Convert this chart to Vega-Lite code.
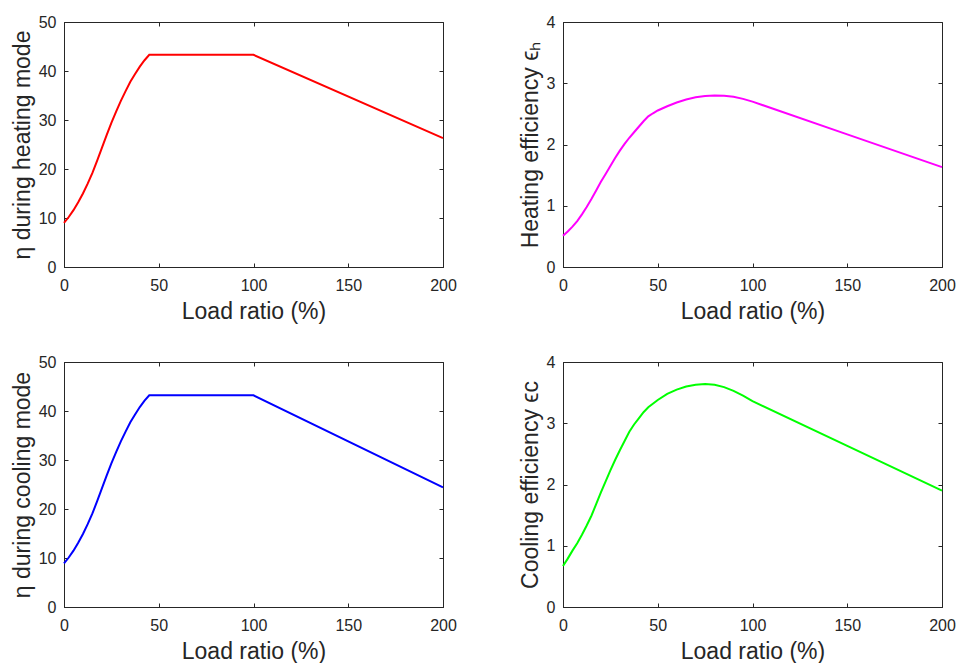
{
  "$schema": "https://vega.github.io/schema/vega-lite/v6.json",
  "background": "white",
  "padding": {"left": 10, "top": 13, "right": 5, "bottom": 5},
  "config": {
    "view": {"stroke": "#262626", "strokeWidth": 1},
    "font": "Liberation Sans",
    "axis": {
      "grid": false,
      "domainColor": "#262626",
      "tickColor": "#262626",
      "labelColor": "#262626",
      "titleColor": "#262626",
      "labelFont": "Liberation Sans",
      "titleFont": "Liberation Sans",
      "labelFontSize": 16,
      "titleFontSize": 23,
      "titleFontWeight": "normal",
      "tickSize": -4,
      "labelFlush": false
    },
    "axisX": {"labelPadding": 14, "titlePadding": 7},
    "axisY": {"labelPadding": 12, "titlePadding": 4}
  },
  "datasets": {
    "heating_eta": [
      {"load": 0, "value": 9.0}, {"load": 2.5, "value": 10.2}, {"load": 5, "value": 11.6},
      {"load": 7.5, "value": 13.2}, {"load": 10, "value": 15.0}, {"load": 12.5, "value": 17.0},
      {"load": 15, "value": 19.2}, {"load": 17.5, "value": 21.7}, {"load": 20, "value": 24.3},
      {"load": 22.5, "value": 26.9}, {"load": 25, "value": 29.4}, {"load": 27.5, "value": 31.7},
      {"load": 30, "value": 33.9}, {"load": 32.5, "value": 35.9}, {"load": 35, "value": 37.8},
      {"load": 37.5, "value": 39.4}, {"load": 40, "value": 40.9}, {"load": 42.5, "value": 42.2},
      {"load": 45, "value": 43.3}, {"load": 100, "value": 43.3}, {"load": 200, "value": 26.3}
    ],
    "heating_eff": [
      {"load": 0, "value": 0.51}, {"load": 2.5, "value": 0.58}, {"load": 5, "value": 0.66},
      {"load": 7.5, "value": 0.75}, {"load": 10, "value": 0.86}, {"load": 12.5, "value": 0.98},
      {"load": 15, "value": 1.11}, {"load": 17.5, "value": 1.25}, {"load": 20, "value": 1.39},
      {"load": 22.5, "value": 1.52}, {"load": 25, "value": 1.65}, {"load": 27.5, "value": 1.78},
      {"load": 30, "value": 1.90}, {"load": 32.5, "value": 2.01}, {"load": 35, "value": 2.11},
      {"load": 37.5, "value": 2.20}, {"load": 40, "value": 2.29}, {"load": 42.5, "value": 2.38},
      {"load": 45, "value": 2.46}, {"load": 47.5, "value": 2.51}, {"load": 50, "value": 2.555},
      {"load": 55, "value": 2.625}, {"load": 60, "value": 2.685}, {"load": 65, "value": 2.735},
      {"load": 70, "value": 2.77}, {"load": 75, "value": 2.79}, {"load": 80, "value": 2.80},
      {"load": 85, "value": 2.795}, {"load": 90, "value": 2.78}, {"load": 95, "value": 2.745},
      {"load": 100, "value": 2.70}, {"load": 150, "value": 2.165}, {"load": 200, "value": 1.63}
    ],
    "cooling_eta": [
      {"load": 0, "value": 8.9}, {"load": 2.5, "value": 10.1}, {"load": 5, "value": 11.5},
      {"load": 7.5, "value": 13.1}, {"load": 10, "value": 14.9}, {"load": 12.5, "value": 16.9},
      {"load": 15, "value": 19.1}, {"load": 17.5, "value": 21.6}, {"load": 20, "value": 24.2},
      {"load": 22.5, "value": 26.8}, {"load": 25, "value": 29.3}, {"load": 27.5, "value": 31.6},
      {"load": 30, "value": 33.8}, {"load": 32.5, "value": 35.8}, {"load": 35, "value": 37.7},
      {"load": 37.5, "value": 39.3}, {"load": 40, "value": 40.8}, {"load": 42.5, "value": 42.1},
      {"load": 45, "value": 43.2}, {"load": 100, "value": 43.2}, {"load": 200, "value": 24.4}
    ],
    "cooling_eff": [
      {"load": 0, "value": 0.67}, {"load": 2.5, "value": 0.79}, {"load": 5, "value": 0.92},
      {"load": 7.5, "value": 1.04}, {"load": 10, "value": 1.18}, {"load": 12.5, "value": 1.33},
      {"load": 15, "value": 1.49}, {"load": 17.5, "value": 1.68}, {"load": 20, "value": 1.87},
      {"load": 22.5, "value": 2.05}, {"load": 25, "value": 2.23}, {"load": 27.5, "value": 2.40},
      {"load": 30, "value": 2.56}, {"load": 32.5, "value": 2.71}, {"load": 35, "value": 2.86},
      {"load": 37.5, "value": 2.98}, {"load": 40, "value": 3.08}, {"load": 42.5, "value": 3.18},
      {"load": 45, "value": 3.26}, {"load": 50, "value": 3.38}, {"load": 55, "value": 3.48},
      {"load": 60, "value": 3.55}, {"load": 65, "value": 3.60}, {"load": 70, "value": 3.63},
      {"load": 75, "value": 3.64}, {"load": 80, "value": 3.63}, {"load": 85, "value": 3.59},
      {"load": 90, "value": 3.53}, {"load": 95, "value": 3.45}, {"load": 100, "value": 3.36},
      {"load": 150, "value": 2.63}, {"load": 200, "value": 1.90}
    ]
  },
  "columns": 2,
  "spacing": {"row": 95, "column": 120},
  "bounds": "flush",
  "concat": [
    {
      "width": 379, "height": 245,
      "data": {"name": "heating_eta"},
      "layer": [
        {
          "mark": {"type": "line", "color": "#FF0000", "strokeWidth": 2},
          "encoding": {
            "x": {"field": "load", "type": "quantitative", "scale": {"domain": [0, 200], "nice": false},
                  "axis": {"title": "Load ratio (%)", "values": [0, 50, 100, 150, 200]}},
            "y": {"field": "value", "type": "quantitative", "scale": {"domain": [0, 50], "nice": false},
                  "axis": {"title": "η during heating mode", "values": [0, 10, 20, 30, 40, 50]}}
          }
        },
        {
          "mark": {"type": "line", "opacity": 0},
          "encoding": {
            "x": {"field": "load", "type": "quantitative",
                  "axis": {"orient": "top", "labels": false, "title": null, "domain": false, "values": [0, 50, 100, 150, 200]}},
            "y": {"field": "value", "type": "quantitative",
                  "axis": {"orient": "right", "labels": false, "title": null, "domain": false, "values": [0, 10, 20, 30, 40, 50]}}
          }
        }
      ],
      "resolve": {"axis": {"x": "independent", "y": "independent"}}
    },
    {
      "width": 379, "height": 245,
      "data": {"name": "heating_eff"},
      "layer": [
        {
          "mark": {"type": "line", "color": "#FF00FF", "strokeWidth": 2},
          "encoding": {
            "x": {"field": "load", "type": "quantitative", "scale": {"domain": [0, 200], "nice": false},
                  "axis": {"title": "Load ratio (%)", "values": [0, 50, 100, 150, 200]}},
            "y": {"field": "value", "type": "quantitative", "scale": {"domain": [0, 4], "nice": false},
                  "axis": {"title": "Heating efficiency ϵₕ", "values": [0, 1, 2, 3, 4]}}
          }
        },
        {
          "mark": {"type": "line", "opacity": 0},
          "encoding": {
            "x": {"field": "load", "type": "quantitative",
                  "axis": {"orient": "top", "labels": false, "title": null, "domain": false, "values": [0, 50, 100, 150, 200]}},
            "y": {"field": "value", "type": "quantitative",
                  "axis": {"orient": "right", "labels": false, "title": null, "domain": false, "values": [0, 1, 2, 3, 4]}}
          }
        }
      ],
      "resolve": {"axis": {"x": "independent", "y": "independent"}}
    },
    {
      "width": 379, "height": 245,
      "data": {"name": "cooling_eta"},
      "layer": [
        {
          "mark": {"type": "line", "color": "#0000FF", "strokeWidth": 2},
          "encoding": {
            "x": {"field": "load", "type": "quantitative", "scale": {"domain": [0, 200], "nice": false},
                  "axis": {"title": "Load ratio (%)", "values": [0, 50, 100, 150, 200]}},
            "y": {"field": "value", "type": "quantitative", "scale": {"domain": [0, 50], "nice": false},
                  "axis": {"title": "η during cooling mode", "values": [0, 10, 20, 30, 40, 50]}}
          }
        },
        {
          "mark": {"type": "line", "opacity": 0},
          "encoding": {
            "x": {"field": "load", "type": "quantitative",
                  "axis": {"orient": "top", "labels": false, "title": null, "domain": false, "values": [0, 50, 100, 150, 200]}},
            "y": {"field": "value", "type": "quantitative",
                  "axis": {"orient": "right", "labels": false, "title": null, "domain": false, "values": [0, 10, 20, 30, 40, 50]}}
          }
        }
      ],
      "resolve": {"axis": {"x": "independent", "y": "independent"}}
    },
    {
      "width": 379, "height": 245,
      "data": {"name": "cooling_eff"},
      "layer": [
        {
          "mark": {"type": "line", "color": "#00FF00", "strokeWidth": 2},
          "encoding": {
            "x": {"field": "load", "type": "quantitative", "scale": {"domain": [0, 200], "nice": false},
                  "axis": {"title": "Load ratio (%)", "values": [0, 50, 100, 150, 200]}},
            "y": {"field": "value", "type": "quantitative", "scale": {"domain": [0, 4], "nice": false},
                  "axis": {"title": "Cooling efficiency ϵc", "values": [0, 1, 2, 3, 4]}}
          }
        },
        {
          "mark": {"type": "line", "opacity": 0},
          "encoding": {
            "x": {"field": "load", "type": "quantitative",
                  "axis": {"orient": "top", "labels": false, "title": null, "domain": false, "values": [0, 50, 100, 150, 200]}},
            "y": {"field": "value", "type": "quantitative",
                  "axis": {"orient": "right", "labels": false, "title": null, "domain": false, "values": [0, 1, 2, 3, 4]}}
          }
        }
      ],
      "resolve": {"axis": {"x": "independent", "y": "independent"}}
    }
  ]
}
